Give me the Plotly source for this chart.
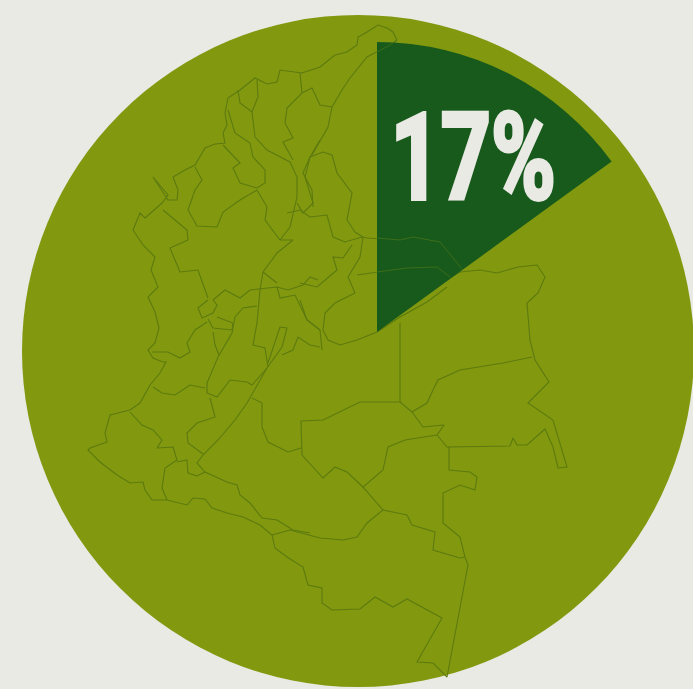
import plotly.graph_objects as go

LABEL = "17%"
SLICE_VALUES = [15, 85]          # angular share as drawn in the picture
BG = "#e8eae3"
OLIVE = "#82980e"
DARK = "#175a1c"
LINE = "#5c7a10"
LINE_ON_DARK = "#3d6e1a"

# Map outline polylines (x, y in image pixels)
COAST = [(397,40),(393,32),(387,28),(378,25),(367,32),(358,37),(357,45),(347,52),(335,55),(320,67),(302,73),(280,70),(277,82),(267,84),(255,78),(240,90),(228,98),(225,113),(227,125),(223,133),(225,143),(215,144),(205,148),(195,165),(185,170),(173,177),(178,190),(177,200),(168,200),(153,177),(168,195),(162,203),(145,218),(140,213),(133,230),(143,245),(155,257),(151,270),(158,287),(148,297),(155,312),(159,328),(155,343),(148,350),(153,358),(163,362),(166,362),(160,373),(150,385),(140,403),(130,410),(110,415),(105,433),(107,442),(90,448),(88,450),(100,462),(117,475),(130,483),(143,482),(145,490),(152,500),(167,500),(187,505),(193,498),(205,499),(212,508),(227,513),(243,517),(260,525),(272,535),(275,548),(287,557),(303,567),(308,585),(322,588),(322,603),(332,610),(360,609),(375,597),(393,607),(407,599),(442,618),(417,662),(433,663),(447,677),(468,565),(465,557),(460,537),(443,523),(443,493),(460,485),(475,490),(477,477),(470,472),(449,470),(449,447),(510,446),(513,438),(517,445),(527,445),(545,429),(553,447),(558,468),(567,467),(553,420),(528,403),(549,382),(535,360),(530,340),(527,303),(538,293),(545,277),(537,265),(518,267),(497,273),(480,270),(460,272),(450,277),(437,267),(407,268),(377,272),(357,275)]
UPPER_EAST = [(463,270),(440,242),(413,237),(400,240),(367,238),(362,237),(345,242),(333,237),(327,215),(310,217),(300,210),(287,213)]
LOWER_EAST = [(447,287),(427,302),(400,317),(377,332),(357,340),(340,345),(328,340),(323,330),(325,313),(335,303),(355,293),(348,277),(360,257),(363,237),(355,232),(347,220),(352,193),(337,173),(332,155),(323,152),(310,157),(305,177),(313,203),(303,213),(297,203)]
VERTICAL = [(400,323),(400,402)]
GUAJIRA_S = [(390,45),(367,57),(350,78),(342,90),(332,107),(328,127),(312,155)]
CESAR = [(332,107),(320,105),(312,88),(302,93),(287,108),(285,123),(293,138),(283,142),(293,160)]
MAGD_TOP = [(300,73),(302,93)]
ATLANTICO = [(238,90),(240,103),(252,112),(258,97),(257,80)]
BOLIVAR = [(252,112),(255,137),(267,150),(290,162),(297,177),(297,197),(290,227),(280,240),(293,240)]
SUCRE = [(228,110),(235,133),(250,143),(253,157),(265,170),(265,183),(257,188),(240,183),(233,168),(240,163),(223,145)]
CORDOBA = [(257,190),(267,207),(265,220),(280,240)]
CORDOBA_S = [(257,190),(240,200),(223,212),(217,227),(197,226),(188,210),(195,190),(202,180),(195,167)]
CHOCO_E = [(163,210),(187,230),(188,240),(170,248),(180,272),(198,270),(208,298)]
BOGOTA = [(208,300),(198,308),(202,318),(213,313),(217,305),(213,300)]
QUINDIO = [(208,319),(213,328),(232,330),(233,323),(217,317)]
CENTRE_N = [(213,300),(225,290),(240,298),(250,290),(277,287),(288,290),(303,285),(310,277),(318,280)]
ANTIOQUIA_E = [(260,290),(263,272),(277,253),(293,240)]
SMALL_A = [(263,272),(277,283)]
BOYACA_S = [(277,287),(280,298),(295,295),(307,320),(320,330)]
CUND_W = [(260,290),(257,323),(253,345),(265,348),(268,367)]
TOLIMA = [(257,306),(243,308),(235,317),(232,333),(218,357),(207,383),(207,393),(217,397),(230,380),(247,382),(252,385),(267,368),(282,347),(287,328),(280,327),(268,363)]
META_N = [(282,355),(293,350),(298,337),(310,345),(320,347)]
CALDAS = [(213,332),(215,345),(219,355)]
VALLE_N = [(207,322),(195,330),(187,343),(190,352),(180,358),(168,352),(152,352)]
VALLE_S = [(153,387),(162,393),(175,395),(190,385),(205,388)]
CAUCA = [(130,412),(142,425),(153,430),(162,440),(157,448),(173,447),(177,460),(165,468),(162,488),(167,500)]
HUILA = [(210,398),(215,417),(197,423),(187,433),(188,443),(203,454)]
HUILA_E = [(267,368),(247,403),(235,420),(218,440),(203,455),(197,463),(205,472),(227,482),(237,485),(240,495),(250,503),(262,518),(277,520),(293,530),(310,533)]
PUTUMAYO_N = [(177,462),(187,460),(188,473),(197,476),(205,472)]
PUTUMAYO_S = [(272,535),(290,530),(320,538),(343,540),(357,537),(367,523),(383,510),(363,487),(383,470),(388,447),(405,440),(437,435),(444,425),(423,427),(412,412),(427,403),(433,390),(438,380),(460,370),(503,363),(532,357)]
GUAINIA = [(412,412),(400,402),(360,402),(323,420),(301,421),(302,455),(323,478),(335,467),(347,472),(363,487)]
GUAVIARE = [(301,448),(288,452),(268,442),(262,427),(262,403),(252,398)]
VAUPES = [(383,510),(407,515),(412,525),(435,532),(433,550),(460,558),(465,557)]
VICHADA_S = [(437,435),(447,447),(449,447)]
BOYACA_N = [(320,140),(310,157),(303,173),(312,190),(313,207)]
ARAUCA_W = [(300,283),(317,287),(337,270),(333,257),(343,258),(352,245)]
CASANARE = [(300,300),(307,320),(320,330),(322,350)]

POLYLINES = [COAST, UPPER_EAST, LOWER_EAST, VERTICAL, GUAJIRA_S, CESAR, MAGD_TOP, ATLANTICO, BOLIVAR, SUCRE,
             CORDOBA, CORDOBA_S, CHOCO_E, BOGOTA, QUINDIO, CENTRE_N, ANTIOQUIA_E, SMALL_A, BOYACA_S, CUND_W,
             TOLIMA, META_N, CALDAS, VALLE_N, VALLE_S, CAUCA, HUILA, HUILA_E, PUTUMAYO_N, PUTUMAYO_S, GUAINIA,
             GUAVIARE, VAUPES, VICHADA_S, BOYACA_N, ARAUCA_W, CASANARE]

# The parts of the outline that show through the dark slice
ON_SLICE = [
    [(463,270),(440,242),(413,237),(400,240),(377,238)],
    [(377,272),(407,268),(437,267),(450,277)],
    [(397,40),(390,45),(377,52)],
]

W, H = 693, 689
fig = go.Figure()
for pl in POLYLINES:
    fig.add_trace(go.Scatter(x=[p[0] for p in pl], y=[p[1] for p in pl], mode="lines",
                             line=dict(color=LINE, width=1.1), hoverinfo="skip", showlegend=False))

# wedge: centre (377,332), radius 290
fig.add_trace(go.Pie(values=SLICE_VALUES, sort=False, direction="clockwise", rotation=0,
                     marker=dict(colors=[DARK, "rgba(0,0,0,0)"], line=dict(width=0)),
                     textinfo="none", hoverinfo="skip", showlegend=False,
                     domain=dict(x=[87/W, 667/W], y=[(H-622)/H, (H-42)/H])))

shapes = [dict(type="circle", xref="x", yref="y", x0=22, x1=694, y0=15, y1=687,
               fillcolor=OLIVE, line=dict(width=0), layer="below")]
for pl in ON_SLICE:
    shapes.append(dict(type="path", xref="x", yref="y", layer="above",
                       path="M" + " L".join(f"{x},{y}" for x, y in pl),
                       line=dict(color=LINE_ON_DARK, width=1)))

fig.update_layout(
    width=W, height=H, margin=dict(l=0, r=0, t=0, b=0), autosize=False,
    paper_bgcolor=BG, plot_bgcolor=BG, showlegend=False,
    xaxis=dict(range=[0, W], visible=False, fixedrange=True),
    yaxis=dict(range=[H, 0], visible=False, fixedrange=True),
    shapes=shapes,
    annotations=[dict(x=473, y=157.5, xref="x", yref="y", text=f"<b>{LABEL}</b>", showarrow=False,
                      xanchor="center", yanchor="middle",
                      font=dict(family="Roboto", size=120, color=BG))],
)

post = """
document.documentElement.style.background='%s';
document.body.style.margin='0';
document.body.style.background='%s';
document.querySelectorAll('.annotation-text').forEach(function(t){
  t.style.transformBox='fill-box'; t.style.transformOrigin='center'; t.style.transform='scaleX(0.73)';
  t.style.stroke='%s'; t.style.strokeWidth='4px';
});
""" % (BG, BG, BG)
fig.write_html("out.html", post_script=post, config=dict(displayModeBar=False))
